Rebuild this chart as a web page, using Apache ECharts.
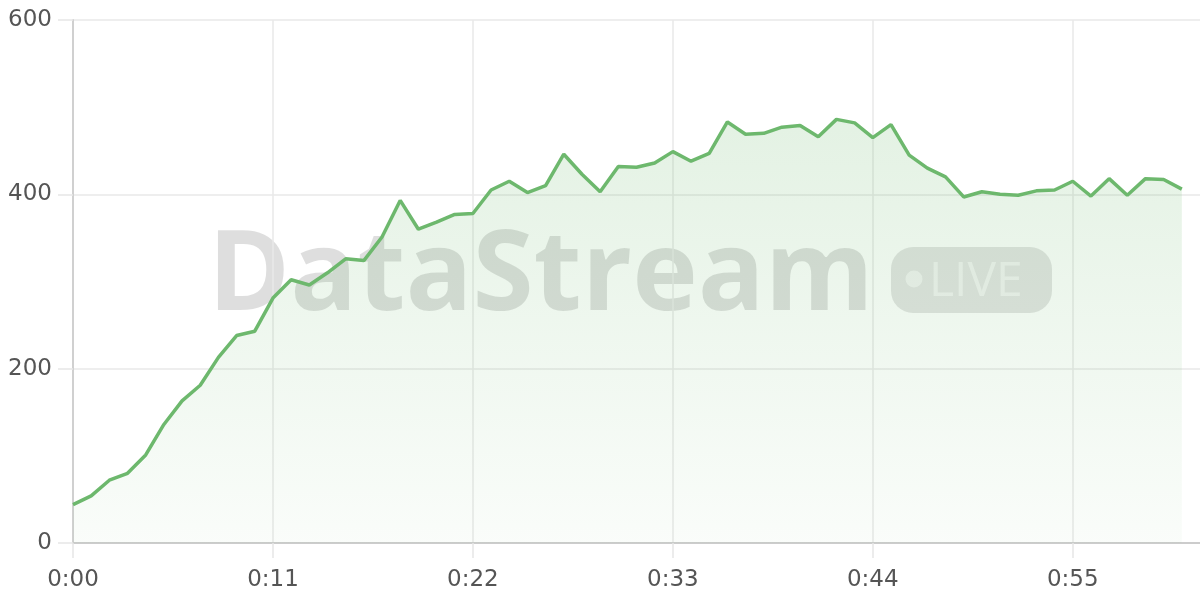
<!DOCTYPE html>
<html>
<head>
<meta charset="utf-8">
<script src="https://cdn.jsdelivr.net/npm/echarts@6/dist/echarts.min.js"></script>
<style>
html,body{margin:0;padding:0;background:#fff;}
#chart{width:1200px;height:600px;}
</style>
</head>
<body>
<div id="chart"></div>
<script>
// Categories: seconds 0:00 .. 1:02
const categories = [];
for (let s = 0; s <= 62; s++) {
  categories.push(Math.floor(s / 60) + ':' + String(s % 60).padStart(2, '0'));
}
// Series values
const values = [
  44, 54, 72, 80, 101, 136, 163, 181, 213, 238,
  243, 281, 302, 296, 310, 326, 324, 351, 393, 360,
  368, 377, 378, 405, 415, 402, 410, 446, 423, 403,
  432, 431, 436, 449, 438, 447, 483, 469, 470, 477,
  479, 466, 486, 482, 465, 480, 445, 430, 420, 397,
  403, 400, 399, 404, 405, 415, 398, 418, 399, 418,
  417, 406
];
const yTicks = [0, 200, 400, 600];

const chart = echarts.init(document.getElementById('chart'), null, {renderer: 'canvas'});
const labelFont = '"DejaVu Sans", sans-serif';
chart.setOption({
  animation: false,
  backgroundColor: '#ffffff',
  grid: {left: 73, right: 0, top: 20, bottom: 57, containLabel: false},
  graphic: [
    {
      type: 'group', z: 1, silent: true,
      children: [
        {type: 'text', x: 208, y: 278,
          style: {text: 'DataStream', font: 'bold 111px "Open Sans"', fill: 'rgba(0,0,0,0.13)', textVerticalAlign: 'middle'}},
        {type: 'rect', shape: {x: 891, y: 247, width: 161, height: 66, r: 22},
          style: {fill: 'rgba(0,0,0,0.11)'}},
        {type: 'circle', shape: {cx: 914, cy: 279, r: 8.5},
          style: {fill: 'rgba(255,255,255,0.55)'}},
        {type: 'text', x: 929, y: 282,
          style: {text: 'LIVE', font: '500 48px "Open Sans"', fill: 'rgba(255,255,255,0.55)', textVerticalAlign: 'middle'}}
      ]
    }
  ],
  xAxis: {
    type: 'category',
    data: categories,
    boundaryGap: false,
    axisLine: {show: true, lineStyle: {color: '#cccccc', width: 2}},
    axisTick: {show: true, interval: 10, length: 15, lineStyle: {color: '#e6e6e6', width: 1.5}},
    axisLabel: {interval: 10, color: '#555555', fontSize: 23, fontFamily: labelFont, margin: 26},
    splitLine: {show: true, interval: 10, lineStyle: {color: '#e8e8e8', width: 1.5}}
  },
  yAxis: {
    type: 'value',
    min: yTicks[0],
    max: yTicks[yTicks.length - 1],
    interval: 200,
    axisLine: {show: true, lineStyle: {color: '#d0d0d0', width: 2}},
    axisTick: {show: true, length: 15, lineStyle: {color: '#e6e6e6', width: 1.5}},
    axisLabel: {color: '#555555', fontSize: 23, fontFamily: labelFont, margin: 21},
    splitLine: {show: true, lineStyle: {color: '#e8e8e8', width: 1.5}}
  },
  series: [{
    type: 'line',
    data: values,
    z: 2,
    symbol: 'none',
    smooth: false,
    lineStyle: {color: '#6db86d', width: 3.5},
    areaStyle: {
      color: new echarts.graphic.LinearGradient(0, 0, 0, 1, [
        {offset: 0, color: 'rgba(110,185,110,0.27)'},
        {offset: 1, color: 'rgba(110,185,110,0.05)'}
      ])
    }
  }]
});
</script>
</body>
</html>
